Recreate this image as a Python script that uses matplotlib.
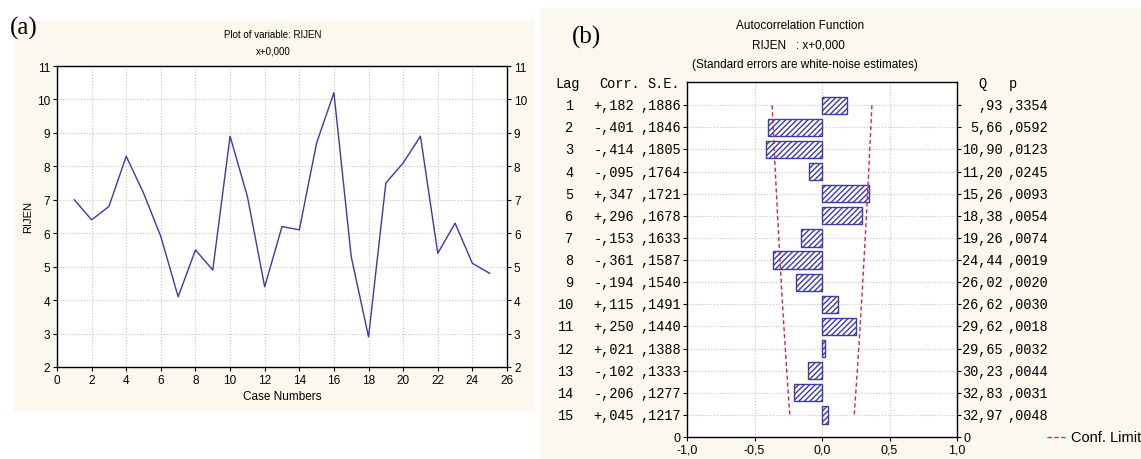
import numpy as np
import matplotlib.pyplot as plt
from matplotlib.patches import Rectangle
from matplotlib.transforms import blended_transform_factory

# --- данные ---
case_numbers = list(range(1, 26))
rijen = [7.0, 6.4, 6.8, 8.3, 7.2, 5.9, 4.1, 5.5, 4.9, 8.9, 7.1, 4.4, 6.2,
         6.1, 8.7, 10.2, 5.3, 2.9, 7.5, 8.1, 8.9, 5.4, 6.3, 5.1, 4.8]

lags = list(range(1, 16))
corr = [0.182, -0.401, -0.414, -0.095, 0.347, 0.296, -0.153, -0.361,
        -0.194, 0.115, 0.250, 0.021, -0.102, -0.206, 0.045]
se = [0.1886, 0.1846, 0.1805, 0.1764, 0.1721, 0.1678, 0.1633, 0.1587,
      0.1540, 0.1491, 0.1440, 0.1388, 0.1333, 0.1277, 0.1217]
q_vals = [",93", "5,66", "10,90", "11,20", "15,26", "18,38", "19,26", "24,44",
          "26,02", "26,62", "29,62", "29,65", "30,23", "32,83", "32,97"]
p_vals = [",3354", ",0592", ",0123", ",0245", ",0093", ",0054", ",0074",
          ",0019", ",0020", ",0030", ",0018", ",0032", ",0044", ",0031", ",0048"]

W, H = 1141, 460
cream = "#fbf8ee"
blue = "#3a3aaa"
red = "#c0304a"
grid_kw = dict(color="#c4c4c4", linestyle=":", linewidth=0.8)
sans = "Liberation Sans"
mono = "Liberation Mono"


def fx(px):
    return px / W


def fy(py):
    return 1 - py / H


def fmt_comma(v, nd=1):
    return f"{v:.{nd}f}".replace(".", ",")


def fmt_corr(v):
    s = f"{abs(v):.3f}"[1:].replace(".", ",")
    return ("+" if v >= 0 else "-") + s


def fmt_se(v):
    return f"{v:.4f}"[1:].replace(".", ",")


fig = plt.figure(figsize=(W / 100, H / 100), dpi=100)
fig.patch.set_facecolor("white")

# фоны панелей
fig.patches.append(Rectangle((fx(14), fy(411)), fx(519), 390 / H,
                             transform=fig.transFigure, color=cream, zorder=-5))
fig.patches.append(Rectangle((fx(540), fy(460)), fx(601), 451 / H,
                             transform=fig.transFigure, color=cream, zorder=-5))

# --- (a) ---
ax1 = fig.add_axes([fx(57), fy(368), fx(450), 301 / H])
ax1.plot(case_numbers, rijen, color=blue, linewidth=1.0)
ax1.set_xlim(0, 26)
ax1.set_ylim(2, 11)
ax1.set_xticks(range(0, 27, 2))
ax1.set_yticks(range(2, 12))
ax1.grid(True, **grid_kw)
ax1.tick_params(axis="both", labelsize=8.5, length=3, width=0.8,
                direction="out", pad=2)
ax1.tick_params(axis="y", right=True, labelright=True)
for lbl in ax1.get_xticklabels() + ax1.get_yticklabels():
    lbl.set_fontfamily(sans)
ax1.set_xlabel("Case Numbers", fontsize=8.5, family=sans, labelpad=3)
ax1.set_ylabel("RIJEN", fontsize=8, family=sans, labelpad=3)
for s in ax1.spines.values():
    s.set_linewidth(1.0)
fig.text(fx(273), fy(35), "Plot of variable: RIJEN", ha="center", va="center",
         fontsize=7, family=sans)
fig.text(fx(273), fy(52), "x+0,000", ha="center", va="center",
         fontsize=7, family=sans)
fig.text(fx(10), fy(28), "(a)", ha="left", va="center", fontsize=18,
         family="Liberation Serif")

# --- (b) ---
ax2 = fig.add_axes([fx(687), fy(438), fx(270), 355 / H])
ax2.barh(lags, corr, height=0.78, color="white", edgecolor=blue,
         linewidth=1.0, hatch="//////", zorder=3)
lim = [1.96 * s for s in se]
ax2.plot(lim, lags, color=red, linestyle=(0, (3, 2)), linewidth=1.0, zorder=4)
ax2.plot([-v for v in lim], lags, color=red, linestyle=(0, (3, 2)),
         linewidth=1.0, zorder=4)
ax2.set_xlim(-1, 1)
ax2.set_ylim(16, -0.05)
ax2.set_xticks([-1, -0.5, 0, 0.5, 1])
ax2.set_xticklabels([fmt_comma(v) for v in [-1, -0.5, 0, 0.5, 1]])
ax2.set_yticks(lags + [16])
ax2.set_yticklabels([""] * 15 + ["0"])
ax2.tick_params(axis="both", labelsize=9, length=3, width=0.8, pad=2)
ax2.tick_params(axis="y", right=True, labelright=True)
for lbl in ax2.get_xticklabels() + ax2.get_yticklabels():
    lbl.set_fontfamily(sans)
ax2.grid(True, **grid_kw)
ax2.set_axisbelow(True)
for s in ax2.spines.values():
    s.set_linewidth(1.0)

tr = blended_transform_factory(ax2.transAxes, ax2.transData)


def axx(px):
    return (px - 687) / 270


txt_kw = dict(transform=tr, fontsize=9.8, family=mono, va="center", clip_on=False)
ax2.text(axx(568), 0, "Lag", ha="center", **txt_kw)
ax2.text(axx(640), 0, "Corr.", ha="right", **txt_kw)
ax2.text(axx(680), 0, "S.E.", ha="right", **txt_kw)
ax2.text(axx(982), 0, "Q", ha="center", **txt_kw)
ax2.text(axx(1013), 0, "p", ha="center", **txt_kw)
for i, lag in enumerate(lags):
    ax2.text(axx(573), lag, str(lag), ha="right", **txt_kw)
    ax2.text(axx(634), lag, fmt_corr(corr[i]), ha="right", **txt_kw)
    ax2.text(axx(681), lag, fmt_se(se[i]), ha="right", **txt_kw)
    ax2.text(axx(1003), lag, q_vals[i], ha="right", **txt_kw)
    ax2.text(axx(1048), lag, p_vals[i], ha="right", **txt_kw)

fig.text(fx(800), fy(26), "Autocorrelation Function", ha="center", va="center",
         fontsize=8.5, family=sans)
fig.text(fx(798), fy(45), "RIJEN   : x+0,000", ha="center", va="center",
         fontsize=8.5, family=sans)
fig.text(fx(805), fy(65), "(Standard errors are white-noise estimates)",
         ha="center", va="center", fontsize=8.5, family=sans)
fig.text(fx(572), fy(37), "(b)", ha="left", va="center", fontsize=18,
         family="Liberation Serif")

# легенда
fig.lines.append(plt.Line2D([fx(1047), fx(1067)], [fy(438), fy(438)],
                            transform=fig.transFigure, color=red,
                            linestyle=(0, (3, 2)), linewidth=1.0))
fig.text(fx(1071), fy(438), "Conf. Limit", ha="left", va="center",
         fontsize=10.5, family=sans)

fig.savefig("out.png", dpi=100)
